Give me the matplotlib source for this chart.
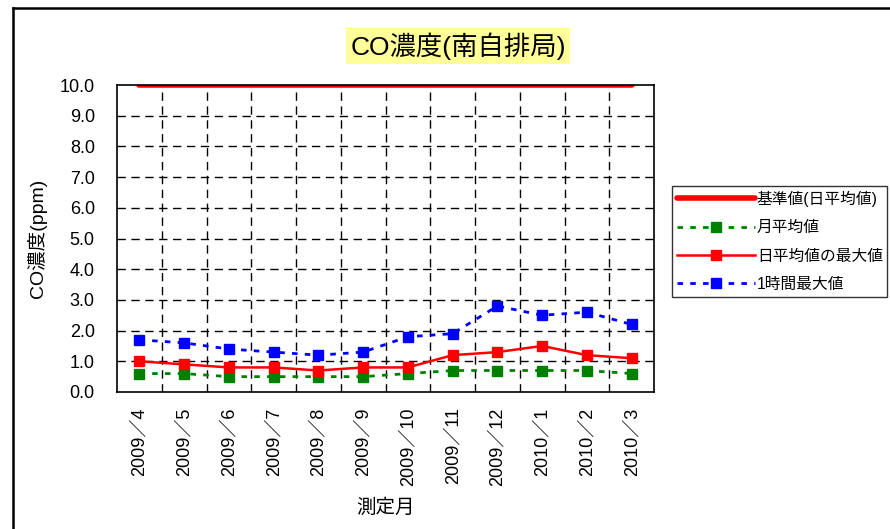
import numpy as np
import matplotlib.pyplot as plt
from matplotlib.lines import Line2D

plt.rcParams['font.family'] = ['Liberation Sans', 'Noto Sans CJK JP']

months = ["2009／4", "2009／5", "2009／6", "2009／7", "2009／8", "2009／9",
          "2009／10", "2009／11", "2009／12", "2010／1", "2010／2", "2010／3"]
standard = [10.0] * 12
monthly_avg = [0.6, 0.6, 0.5, 0.5, 0.5, 0.5, 0.6, 0.7, 0.7, 0.7, 0.7, 0.6]
daily_max = [1.0, 0.9, 0.8, 0.8, 0.7, 0.8, 0.8, 1.2, 1.3, 1.5, 1.2, 1.1]
hourly_max = [1.7, 1.6, 1.4, 1.3, 1.2, 1.3, 1.8, 1.9, 2.8, 2.5, 2.6, 2.2]

fig = plt.figure(figsize=(8.9, 5.29), dpi=100)
ax = fig.add_axes([117 / 890, 1 - 392 / 529, 537 / 890, 307 / 529])

x = np.arange(len(months))
ax.plot(x, standard, color="red", lw=4, solid_capstyle="round", label="基準値(日平均値)")
ax.plot(x, monthly_avg, color="green", lw=2, ls=(0, (2, 2.6)), marker="s", ms=7.5,
        label="月平均値")
ax.plot(x, daily_max, color="red", lw=1.8, marker="s", ms=7.5, label="日平均値の最大値")
ax.plot(x, hourly_max, color="blue", lw=2, ls=(0, (2, 2.6)), marker="s", ms=7.5,
        label="1時間最大値")

ax.set_xlim(-0.5, len(months) - 0.5)
ax.set_ylim(0, 10)
ax.set_yticks(np.arange(0, 10.1, 1.0))
ax.set_yticklabels([f"{v:.1f}" for v in np.arange(0, 10.1, 1.0)], fontsize=13)
ax.set_xticks(x)
ax.set_xticklabels(months, rotation=90, fontsize=13)
ax.tick_params(axis="x", length=0, pad=11)
ax.tick_params(axis="y", length=0, pad=16)

# dashed grid at category boundaries and every 1.0
for b in np.arange(0.5, len(months) - 0.5, 1):
    ax.axvline(b, color="black", lw=1, ls=(0, (6, 4)), zorder=0)
for v in np.arange(1, 10, 1):
    ax.axhline(v, color="black", lw=1, ls=(0, (6, 4)), zorder=0)
for s in ax.spines.values():
    s.set_color("black")
    s.set_linewidth(1.2)

ax.set_ylabel("CO濃度(ppm)", fontsize=14)
ax.yaxis.set_label_coords((47 - 117) / 537, 0.5)
ax.set_xlabel("測定月", fontsize=14)
ax.xaxis.set_label_coords(0.5, -(498 - 392) / 307)

fig.text(458 / 890, 1 - 46 / 529, "CO濃度(南自排局)", fontsize=19, ha="center", va="center",
         bbox=dict(facecolor="#FFFF99", edgecolor="none", pad=3))

leg = ax.legend(loc="upper left", bbox_to_anchor=(672 / 890, 1 - 186 / 529),
                bbox_transform=fig.transFigure, fontsize=11.3, frameon=True,
                fancybox=False, edgecolor="black", handlelength=5.0,
                handletextpad=0.1, borderpad=0.3, labelspacing=0.85, borderaxespad=0)
leg.get_frame().set_linewidth(1)

# outer chart-area border (left and top visible)
fig.add_artist(Line2D([13 / 890, 13 / 890], [0, 1 - 8 / 529], color="black", lw=1.8,
                      transform=fig.transFigure))
fig.add_artist(Line2D([13 / 890, 1], [1 - 8 / 529, 1 - 8 / 529], color="black", lw=1.8,
                      transform=fig.transFigure))

fig.savefig("out.png", dpi=100)
